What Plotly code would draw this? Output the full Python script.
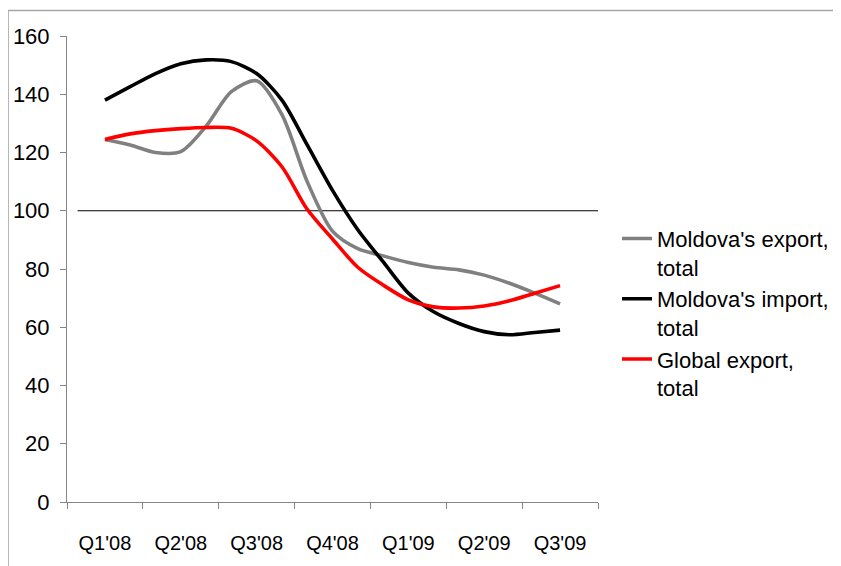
import plotly.graph_objects as go

quarters = ["Q1'08", "Q2'08", "Q3'08", "Q4'08", "Q1'09", "Q2'09", "Q3'09"]
# monthly observations, Feb'08 .. Aug'09 (position in quarter units, Feb'08 = Q1'08 centre)
months = ["Feb08", "Mar08", "Apr08", "May08", "Jun08", "Jul08", "Aug08", "Sep08", "Oct08", "Nov08",
          "Dec08", "Jan09", "Feb09", "Mar09", "Apr09", "May09", "Jun09", "Jul09", "Aug09"]
month_pos = [i / 3 for i in range(len(months))]

moldova_export = [124.5, 122.6, 120.0, 120.3, 129.0, 140.9, 144.6, 133.0, 110.0, 93.0,
                  87.0, 84.5, 82.2, 80.6, 79.7, 77.9, 75.1, 71.7, 68.0]
moldova_import = [138.0, 142.6, 147.1, 150.5, 151.8, 151.2, 147.1, 138.0, 122.6, 107.0,
                  93.5, 82.5, 71.7, 65.3, 61.3, 58.5, 57.4, 58.2, 59.0]
global_export = [124.5, 126.4, 127.5, 128.2, 128.6, 128.3, 124.0, 115.1, 100.5, 90.3,
                 80.6, 74.5, 69.4, 67.0, 66.6, 67.3, 69.1, 71.7, 74.3]
reference_level = 100

series = [
    ("Moldova's export,<br>total", moldova_export, "#808080"),
    ("Moldova's import,<br>total", moldova_import, "#000000"),
    ("Global export,<br>total", global_export, "#ff0000"),
]

FONT = "Liberation Sans, Arial, sans-serif"

fig = go.Figure()
for name, vals, col in series:
    fig.add_trace(go.Scatter(
        x=month_pos, y=vals, name=name, mode="lines",
        line=dict(color=col, width=3.6, shape="spline", smoothing=0.8),
    ))

fig.add_shape(type="line", xref="paper", yref="y", x0=0.02, x1=1,
              y0=reference_level, y1=reference_level,
              line=dict(color="black", width=1), layer="below")

# outer chart border
fig.add_shape(type="rect", xref="paper", yref="paper",
              x0=-0.111, x1=3, y0=1.0547, y1=-1,
              line=dict(color="#a6a6a6", width=1.5))

fig.update_layout(
    width=833, height=558,
    margin=dict(l=59, r=243, t=28, b=64, autoexpand=False),
    paper_bgcolor="white", plot_bgcolor="white",
    font=dict(family=FONT, color="black", size=22),
    showlegend=True,
    legend=dict(x=1.0358, xanchor="left", y=0.61, yanchor="top",
                font=dict(size=22, family=FONT), valign="top",
                tracegroupgap=0, itemwidth=30, bgcolor="rgba(0,0,0,0)"),
    xaxis=dict(range=[-0.5, 6.5], tickmode="array", automargin=False,
               tickvals=list(range(len(quarters))), ticktext=quarters,
               ticks="", showgrid=False, zeroline=False,
               showline=True, linecolor="#868686", linewidth=1,
               tickfont=dict(size=20, family=FONT),
               ticklabelstandoff=23,
               minor=dict(tickmode="array",
                          tickvals=[i - 0.5 for i in range(len(quarters) + 1)],
                          ticks="outside", ticklen=6, tickcolor="#868686",
                          showgrid=False)),
    yaxis=dict(range=[0, 160], tickmode="array", tickvals=list(range(0, 161, 20)),
               automargin=False,
               ticks="outside", ticklen=6, tickcolor="#868686",
               showgrid=False, zeroline=False,
               showline=True, linecolor="#868686", linewidth=1,
               tickfont=dict(size=22, family=FONT), ticklabelstandoff=6),
)

fig.write_html("out.html")
